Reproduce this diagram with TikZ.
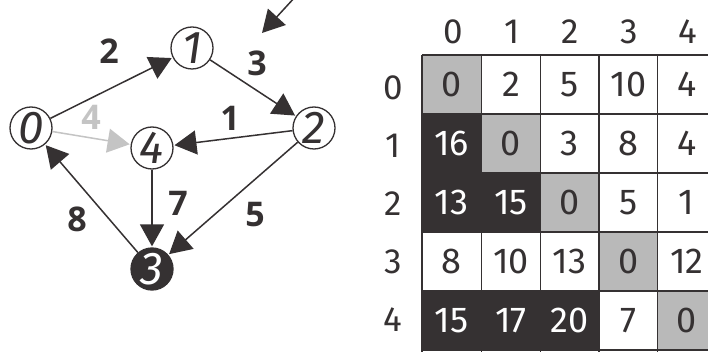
\documentclass[tikz,border=0pt]{standalone}
\usepackage{fontspec}
\setmainfont{Fira Sans}
\newfontfamily\weightfont{Open Sans}
\usetikzlibrary{arrows.meta}
\definecolor{ink}{HTML}{353132}
\definecolor{cellgray}{HTML}{B9B9B9}
\definecolor{faint}{HTML}{C4C4C4}
\tikzset{
  vertex/.style={circle, draw=ink, line width=1.3pt, fill=white, minimum size=42pt,
    inner sep=0pt, font=\itshape\fontsize{46}{46}\selectfont, text=ink},
  darkvertex/.style={vertex, fill=ink, text=white},
  bigtip/.style={-{Triangle[length=22pt,width=24pt]}},
  link/.style={draw=ink, line width=1.5pt, shorten >=1pt, bigtip},
  weight/.style={font=\weightfont\bfseries\fontsize{34}{34}\selectfont, text=ink},
  cellnum/.style={font=\fontsize{36}{36}\selectfont, text=ink},
  headnum/.style={font=\fontsize{35}{35}\selectfont, text=ink},
}
\begin{document}
\begin{tikzpicture}[x=1pt, y=-1pt]
\useasboundingbox (0,0) rectangle (708,352);
\fill[white] (0,0) rectangle (708,352);

% graph vertices
\node[vertex] (v0) at (31,128) {0};
\node[vertex] (v1) at (192,48) {1};
\node[vertex] (v2) at (314,128) {2};
\node[vertex] (v4) at (152,148) {4};
\node[darkvertex] (v3) at (152,269) {3};

% weighted edges
\draw[link] (v0) -- (v1);
\draw[link] (v1) -- (v2);
\draw[link, draw=faint] (v0) -- (v4);
\draw[link] (v2) -- (v4);
\draw[link] (v4) -- (v3);
\draw[link] (v2) -- (v3);
\draw[link] (v3) -- (v0);

\node[weight] (w01) at (109,51) {2};
\node[weight] (w12) at (257,63) {3};
\node[weight, text=faint] (w04) at (91,117) {4};
\node[weight] (w24) at (230,118) {1};
\node[weight] (w43) at (178,203) {7};
\node[weight] (w23) at (255,215) {5};
\node[weight] (w30) at (77,219) {8};

% incoming pointer at the top
\coordinate (pfrom) at (296,-4);
\coordinate (pto) at (262,33);
\draw[draw=ink, line width=1.5pt, bigtip] (pfrom) -- (pto);

% distance matrix: diagonal fills
\def\cx{{422,481.5,540.5,599,657.5,716}}
\def\ry{{55,114,173,232,291,350}}
\foreach \k in {0,...,4} {
  \pgfmathsetmacro{\xa}{\cx[\k]}
  \pgfmathsetmacro{\xb}{\cx[\k+1]}
  \pgfmathsetmacro{\ya}{\ry[\k]}
  \pgfmathsetmacro{\yb}{\ry[\k+1]}
  \fill[cellgray] (\xa,\ya) rectangle (\xb,\yb);
}
% grid lines
\foreach \k in {0,...,5} {
  \pgfmathsetmacro{\xx}{\cx[\k]}
  \draw[ink, line width=1.4pt] (\xx,55) -- (\xx,360);
  \pgfmathsetmacro{\yy}{\ry[\k]}
  \draw[ink, line width=1.4pt] (422,\yy) -- (720,\yy);
}
% dark blocks, drawn over the grid so no line shows between them
\fill[ink] (421.3,114) rectangle (481.5,232);
\fill[ink] (481.5,173) rectangle (540.5,232);
\fill[ink] (421.3,291) rectangle (599,350);

% cell values
\foreach \i/\j/\v/\kind in {
  0/0/0/a, 0/1/2/a, 0/2/5/a, 0/3/10/a, 0/4/4/a,
  1/0/16/b, 1/1/0/a, 1/2/3/a, 1/3/8/a, 1/4/4/a,
  2/0/13/b, 2/1/15/b, 2/2/0/a, 2/3/5/a, 2/4/1/a,
  3/0/8/a, 3/1/10/a, 3/2/13/a, 3/3/0/a, 3/4/12/a,
  4/0/15/b, 4/1/17/b, 4/2/20/b, 4/3/7/a, 4/4/0/a} {
  \pgfmathsetmacro{\xa}{\cx[\j]}
  \pgfmathsetmacro{\xb}{\cx[\j+1]}
  \pgfmathsetmacro{\ya}{\ry[\i]}
  \pgfmathsetmacro{\yb}{\ry[\i+1]}
  \if\kind b
    \node[cellnum, text=white] (c\i\j) at ({(\xa+\xb)/2},{(\ya+\yb)/2}) {\v};
  \else
    \node[cellnum] (c\i\j) at ({(\xa+\xb)/2},{(\ya+\yb)/2}) {\v};
  \fi
}

% headers
\foreach \k/\x in {0/453,1/512,2/570,3/629,4/688}
  \node[headnum] (col\k) at (\x,32) {\k};
\foreach \k/\y in {0/88,1/146,2/204,3/262,4/320}
  \node[headnum] (row\k) at (393,\y) {\k};
\end{tikzpicture}
\end{document}
